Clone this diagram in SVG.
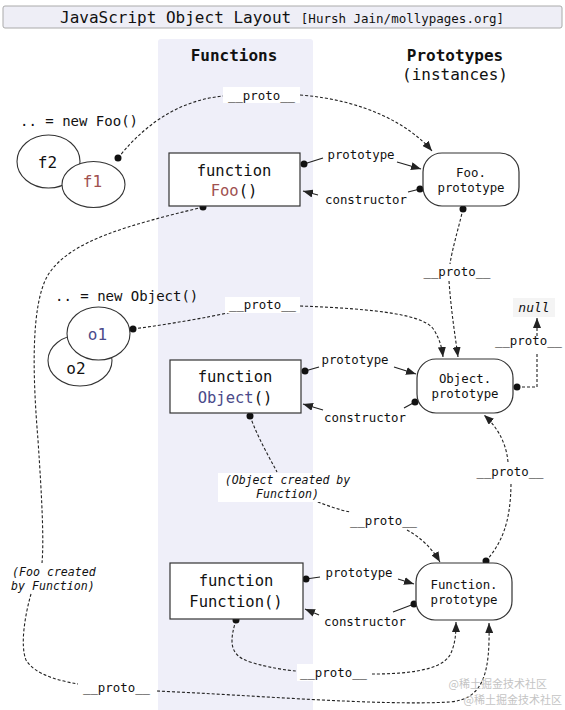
<svg xmlns="http://www.w3.org/2000/svg" width="565" height="710" viewBox="0 0 565 710">
<style>
text{font-family:"DejaVu Sans Mono","Liberation Mono",monospace;fill:#111}
.hd{font-size:16px;font-weight:bold}
.big{font-size:15.5px}
.lbl{font-size:12.4px}
.it{font-size:11.6px;font-style:italic}
.box{fill:#fff;stroke:#333;stroke-width:1.2}
.ell{fill:#fff;stroke:#333;stroke-width:1.1}
.dash{fill:none;stroke:#222;stroke-width:1.1;stroke-dasharray:3,2}
.sol{fill:none;stroke:#222;stroke-width:1.2}
.bg{fill:#fff}
.foo{fill:#a0504f}
.obj{fill:#4a4a8a}
.wm{font-family:"Noto Sans CJK SC",sans-serif;font-size:11px;fill:#c4c4c4}
</style>
<defs>
<marker id="arr" viewBox="0 0 10 8" refX="10" refY="4" markerWidth="10" markerHeight="8" markerUnits="userSpaceOnUse" orient="auto"><path d="M0,0 L10,4 L0,8 z" fill="#222"/></marker>
<marker id="dot" viewBox="0 0 8 8" refX="4" refY="4" markerWidth="8" markerHeight="8" markerUnits="userSpaceOnUse"><circle cx="4" cy="4" r="3.5" fill="#111"/></marker>
</defs>
<rect x="0" y="0" width="565" height="710" fill="#fff"/>
<rect x="158" y="39" width="155" height="680" rx="3" fill="#efeff9"/>
<g id="title">
<rect x="3" y="6" width="559" height="22" rx="2" fill="#eeeef6" stroke="#aaa" stroke-width="1"/>
<text x="60" y="23" style="font-size:16px">JavaScript Object Layout <tspan style="font-size:12.5px">[Hursh Jain/mollypages.org]</tspan></text>
</g>
<text class="hd" x="234" y="61" text-anchor="middle">Functions</text>
<text class="hd" x="455" y="61" text-anchor="middle">Prototypes</text>
<text x="455" y="80" text-anchor="middle" style="font-size:16px">(instances)</text>

<g id="connectors">
<path class="dash" d="M118,158 C150,118 185,100 223,96" marker-start="url(#dot)"/>
<path class="dash" d="M300,95 C365,100 410,125 432,151" marker-end="url(#arr)"/>
<rect class="bg" x="223" y="87" width="77" height="16"/>
<text class="lbl" x="261.5" y="100" text-anchor="middle">__proto__</text>

<path class="sol" d="M304,164 L323,158" marker-start="url(#dot)"/>
<path class="sol" d="M397,162 L421,169" marker-end="url(#arr)"/>
<text class="lbl" x="361" y="159" text-anchor="middle">prototype</text>
<path class="sol" d="M420,189 L408,192" marker-start="url(#dot)"/>
<path class="sol" d="M318,195 L303,191" marker-end="url(#arr)"/>
<text class="lbl" x="366" y="204" text-anchor="middle">constructor</text>

<path class="dash" d="M463,209 C458,230 452,250 450,264" marker-start="url(#dot)"/>
<path class="dash" d="M449,281 C451,310 455,335 458,357" marker-end="url(#arr)"/>
<text class="lbl" x="457" y="276" text-anchor="middle">__proto__</text>

<path class="dash" d="M203,207 C130,225 70,240 48,275 C30,305 33,380 38,440 C42,500 44,540 42,563" marker-start="url(#dot)"/>
<path class="dash" d="M31,594 C25,615 20,645 26,660 C35,675 60,681 78,684"/>
<path class="dash" d="M157,691 C250,695 380,706 450,702 C485,699 490,670 489,623" marker-end="url(#arr)"/>
<text class="it" x="12" y="576">(Foo created</text>
<text class="it" x="11" y="590">by Function)</text>
<text class="lbl" x="116.5" y="692" text-anchor="middle">__proto__</text>

<path class="dash" d="M133,329 C170,324 205,318 232,312" marker-start="url(#dot)"/>
<path class="dash" d="M300,306 C380,309 425,315 434,330 C440,340 442,348 443,357" marker-end="url(#arr)"/>
<rect class="bg" x="225" y="297" width="75" height="16"/>
<text class="lbl" x="262.5" y="309" text-anchor="middle">__proto__</text>

<path class="sol" d="M305,371 L319,367" marker-start="url(#dot)"/>
<path class="sol" d="M394,367 L416,374" marker-end="url(#arr)"/>
<text class="lbl" x="355" y="364" text-anchor="middle">prototype</text>
<path class="sol" d="M415,402 L404,408" marker-start="url(#dot)"/>
<path class="sol" d="M323,410 L303,404" marker-end="url(#arr)"/>
<text class="lbl" x="365" y="422" text-anchor="middle">constructor</text>

<path class="dash" d="M517,387 L537,387 L537,352" marker-start="url(#dot)"/>
<path class="dash" d="M537,336 L537,318" marker-end="url(#arr)"/>
<text class="lbl" x="528.5" y="345" text-anchor="middle">__proto__</text>
<rect x="513" y="298" width="42" height="19" fill="#f4f4f4"/>
<text x="534" y="312" text-anchor="middle" style="font-size:13px;font-style:italic">null</text>

<path class="dash" d="M250,416 C258,438 268,455 277,472" marker-start="url(#dot)"/>
<path class="dash" d="M313,500 C328,506 340,510 350,512"/>
<path class="dash" d="M407,530 C420,537 432,548 440,562" marker-end="url(#arr)"/>
<rect class="bg" x="218" y="473" width="135" height="29"/>
<text class="it" x="287.5" y="484" text-anchor="middle">(Object created by</text>
<text class="it" x="287.5" y="498" text-anchor="middle">Function)</text>
<text class="lbl" x="383.5" y="525" text-anchor="middle">__proto__</text>

<path class="dash" d="M486,561 C500,545 511,525 511,482" marker-start="url(#dot)"/>
<path class="dash" d="M508,462 C506,440 495,425 484,415" marker-end="url(#arr)"/>
<text class="lbl" x="510" y="476" text-anchor="middle">__proto__</text>

<path class="sol" d="M306,579 L320,577" marker-start="url(#dot)"/>
<path class="sol" d="M398,579 L414,584" marker-end="url(#arr)"/>
<text class="lbl" x="359" y="577" text-anchor="middle">prototype</text>
<path class="sol" d="M414,604 L393,612" marker-start="url(#dot)"/>
<path class="sol" d="M319,615 L305,609" marker-end="url(#arr)"/>
<text class="lbl" x="365" y="626" text-anchor="middle">constructor</text>

<path class="dash" d="M236,620 C230,640 228,655 250,662 C270,668 285,670 296,671" marker-start="url(#dot)"/>
<path class="dash" d="M372,674 C400,674 440,672 450,655 C455,645 456,635 456,622" marker-end="url(#arr)"/>
<rect class="bg" x="297" y="664" width="73" height="17"/>
<text class="lbl" x="333.5" y="677" text-anchor="middle">__proto__</text>
</g>

<g id="f2"><ellipse class="ell" cx="48.5" cy="161.5" rx="31.5" ry="26.5"/><text class="big" x="47.5" y="168" text-anchor="middle" style="font-size:16px">f2</text></g>
<g id="f1"><ellipse class="ell" cx="93.5" cy="184.5" rx="31.5" ry="23"/><text class="big foo" x="92.5" y="187" text-anchor="middle" style="font-size:16px">f1</text></g>
<text x="20" y="126" style="font-size:14px">.. = new Foo()</text>

<g id="o2"><ellipse class="ell" cx="80" cy="360.5" rx="32" ry="25.5"/><text x="76" y="374" text-anchor="middle" style="font-size:16px">o2</text></g>
<g id="o1"><ellipse class="ell" cx="98.5" cy="333.5" rx="31.5" ry="26.5"/><text class="obj" x="97.5" y="340" text-anchor="middle" style="font-size:16px">o1</text></g>
<text x="55" y="301" style="font-size:14px">.. = new Object()</text>

<g id="Foo"><rect class="box" x="169" y="153" width="131" height="53"/>
<text class="big" x="234" y="176" text-anchor="middle">function</text>
<text class="big" x="234" y="196" text-anchor="middle"><tspan class="foo">Foo</tspan>()</text></g>
<g id="FooPrototype"><rect class="box" x="423" y="153" width="96" height="53" rx="19"/>
<text class="lbl" x="471" y="177" text-anchor="middle">Foo.</text>
<text class="lbl" x="471" y="192" text-anchor="middle">prototype</text></g>

<g id="Object"><rect class="box" x="170" y="360" width="131" height="53"/>
<text class="big" x="235" y="382" text-anchor="middle">function</text>
<text class="big" x="235" y="403" text-anchor="middle"><tspan class="obj">Object</tspan>()</text></g>
<g id="ObjectPrototype"><rect class="box" x="417" y="359" width="96" height="54" rx="19"/>
<text class="lbl" x="465" y="383" text-anchor="middle">Object.</text>
<text class="lbl" x="465" y="398" text-anchor="middle">prototype</text></g>

<g id="Function"><rect class="box" x="170" y="563" width="133" height="56"/>
<text class="big" x="236" y="586" text-anchor="middle">function</text>
<text class="big" x="236" y="607" text-anchor="middle">Function()</text></g>
<g id="FunctionPrototype"><rect class="box" x="416" y="563" width="96" height="57" rx="19"/>
<text class="lbl" x="464" y="589" text-anchor="middle">Function.</text>
<text class="lbl" x="464" y="604" text-anchor="middle">prototype</text></g>

<text class="wm" x="547" y="688" text-anchor="end">@稀土掘金技术社区</text>
<text class="wm" x="562" y="704" text-anchor="end">@稀土掘金技术社区</text>
</svg>
